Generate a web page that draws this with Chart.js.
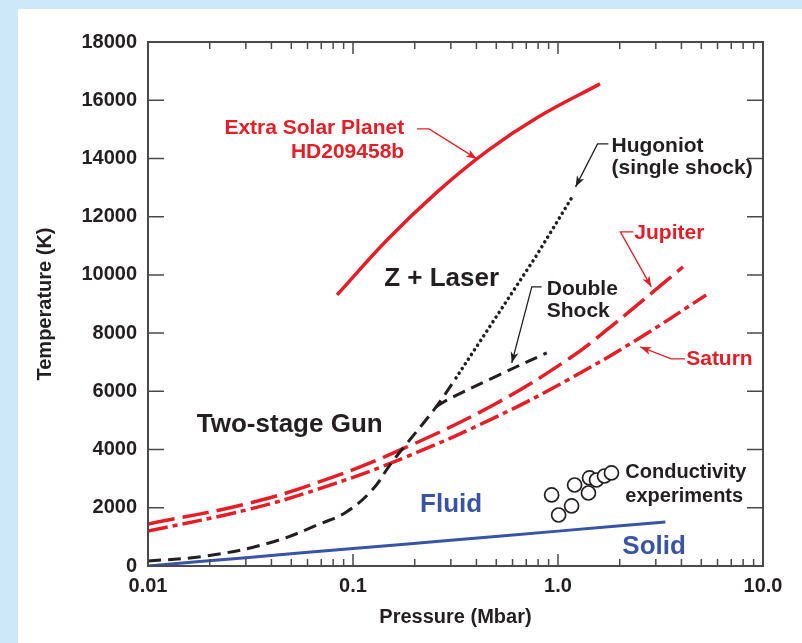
<!DOCTYPE html>
<html>
<head>
<meta charset="utf-8">
<script src="https://cdn.jsdelivr.net/npm/chart.js@4.4.0/dist/chart.umd.min.js"></script>
<style>
  html, body { margin: 0; padding: 0; background: #cde8f9; }
  #wrap { position: absolute; left: 18px; top: 9px; width: 784px; height: 634px; background: #fff; }
</style>
</head>
<body>
<div id="wrap"><canvas id="chart" width="784" height="634"></canvas></div>
<script>
// pressure in Mbar, temperature in K
const planetP = [0.0836, 0.1466, 0.2569, 0.4505, 0.790, 1.603];
const planetT = [9312, 11198, 12844, 14253, 15400, 16562];

const hugoniotP = [0.01, 0.0194, 0.0405, 0.0709, 0.0928, 0.124, 0.155, 0.254, 0.318];
const hugoniotT = [170, 345, 825, 1480, 1855, 2610, 3570, 5460, 6460];

const hugoniotDotP = [0.318, 0.778, 1.19];
const hugoniotDotT = [6460, 10620, 12750];

const doubleShockP = [0.254, 0.287, 0.514, 0.881];
const doubleShockT = [5460, 5700, 6560, 7320];

const jupiterP = [0.01, 0.0314, 0.0772, 0.1834, 0.504, 1.144, 1.854, 2.907, 4.07];
const jupiterT = [1443, 2163, 3019, 4089, 5601, 7147, 8281, 9415, 10274];

const saturnP = [0.01, 0.0313, 0.0767, 0.1816, 0.497, 1.127, 2.466, 5.28];
const saturnT = [1200, 1952, 2770, 3746, 5114, 6409, 7807, 9309];

const solidP = [0.01, 0.03, 0.1, 0.3, 1.0, 3.34];
const solidT = [0, 286, 599, 885, 1198, 1512];

const condP = [0.931, 1.007, 1.165, 1.205, 1.408, 1.425, 1.541, 1.686, 1.823];
const condT = [2440, 1752, 2062, 2783, 2508, 3024, 2955, 3092, 3196];

const xTickValues = [0.01, 0.1, 1, 10];
const xTickLabels = ['0.01', '0.1', '1.0', '10.0'];

const ink = '#231f20';
const red = '#e31e26';
const blue = '#3953a5';
const axisColor = '#4a4a4a';
const fam = '"Liberation Sans", Arial, Helvetica, sans-serif';

const pts = (xs, ys) => xs.map((x, i) => ({ x: x, y: ys[i] }));

// text labels, anchored in data space
const notes = [
  { text: 'Extra Solar Planet', p: 0.1776, t: 15050, align: 'right', color: red, size: 21 },
  { text: 'HD209458b', p: 0.1776, t: 14225, align: 'right', color: red, size: 21 },
  { text: 'Hugoniot', p: 1.823, t: 14431, align: 'left', color: ink, size: 21 },
  { text: '(single shock)', p: 1.823, t: 13675, align: 'left', color: ink, size: 21 },
  { text: 'Z + Laser', p: 0.142, t: 9861, align: 'left', color: ink, size: 26 },
  { text: 'Double', p: 0.881, t: 9518, align: 'left', color: ink, size: 21 },
  { text: 'Shock', p: 0.881, t: 8762, align: 'left', color: ink, size: 21 },
  { text: 'Two-stage Gun', p: 0.0173, t: 4845, align: 'left', color: ink, size: 26 },
  { text: 'Jupiter', p: 2.357, t: 11442, align: 'left', color: red, size: 21 },
  { text: 'Saturn', p: 4.22, t: 7113, align: 'left', color: red, size: 21 },
  { text: 'Fluid', p: 0.2124, t: 2096, align: 'left', color: blue, size: 26 },
  { text: 'Solid', p: 2.06, t: 653, align: 'left', color: blue, size: 26 },
  { text: 'Conductivity', p: 2.13, t: 3196, align: 'left', color: ink, size: 20 },
  { text: 'experiments', p: 2.13, t: 2405, align: 'left', color: ink, size: 20 }
];

// leader lines with arrowhead at the last point
const arrows = [
  { color: red, path: [[0.2054, 15015], [0.235, 15015], [0.402, 13985]] },
  { color: ink, path: [[1.762, 14500], [1.559, 14500], [1.218, 13022]] },
  { color: ink, path: [[0.832, 9587], [0.745, 9587], [0.595, 6975]] },
  { color: red, path: [[2.33, 11476], [2.015, 11476], [2.852, 9586]] },
  { color: red, path: [[4.17, 7113], [3.57, 7113], [2.52, 7525]] }
];

const decor = {
  id: 'decor',
  afterDatasetsDraw(chart) {
    const ctx = chart.ctx;
    const xs = chart.scales.x, ys = chart.scales.y;
    ctx.save();
    arrows.forEach(a => {
      const p = a.path.map(q => [xs.getPixelForValue(q[0]), ys.getPixelForValue(q[1])]);
      ctx.strokeStyle = a.color;
      ctx.fillStyle = a.color;
      ctx.lineWidth = 1.3;
      ctx.beginPath();
      ctx.moveTo(p[0][0], p[0][1]);
      for (let i = 1; i < p.length; i++) ctx.lineTo(p[i][0], p[i][1]);
      ctx.stroke();
      const e = p[p.length - 1], s = p[p.length - 2];
      const ang = Math.atan2(e[1] - s[1], e[0] - s[0]);
      ctx.save();
      ctx.translate(e[0], e[1]);
      ctx.rotate(ang);
      ctx.beginPath();
      ctx.moveTo(0, 0);
      ctx.lineTo(-11, -4);
      ctx.lineTo(-8, 0);
      ctx.lineTo(-11, 4);
      ctx.closePath();
      ctx.fill();
      ctx.restore();
    });
    ctx.textBaseline = 'middle';
    notes.forEach(n => {
      ctx.font = 'bold ' + n.size + 'px ' + fam;
      ctx.fillStyle = n.color;
      ctx.textAlign = n.align;
      ctx.fillText(n.text, xs.getPixelForValue(n.p), ys.getPixelForValue(n.t));
    });
    ctx.restore();
  },
  afterDraw(chart) {
    const ctx = chart.ctx;
    const a = chart.chartArea;
    const xs = chart.scales.x, ys = chart.scales.y;
    ctx.save();
    ctx.strokeStyle = axisColor;
    ctx.lineWidth = 2;
    ctx.strokeRect(a.left, a.top, a.right - a.left, a.bottom - a.top);
    ctx.lineWidth = 1.5;
    ctx.beginPath();
    for (let v = 2000; v < 18000; v += 2000) {
      const y = ys.getPixelForValue(v);
      ctx.moveTo(a.left, y); ctx.lineTo(a.left + 16, y);
      ctx.moveTo(a.right, y); ctx.lineTo(a.right - 16, y);
    }
    for (let d = 0.01; d < 10; d *= 10) {
      for (let k = 1; k <= 10; k++) {
        const v = d * k;
        if (v <= 0.01 || v >= 10) continue;
        const x = xs.getPixelForValue(v);
        const len = (k === 10) ? 12 : 7;
        ctx.moveTo(x, a.bottom); ctx.lineTo(x, a.bottom - len);
        ctx.moveTo(x, a.top); ctx.lineTo(x, a.top + len);
      }
    }
    ctx.stroke();
    ctx.restore();
  }
};

const curve = { showLine: true, pointRadius: 0, tension: 0.4 };

new Chart(document.getElementById('chart'), {
  type: 'scatter',
  data: {
    datasets: [
      {
        label: 'Conductivity experiments',
        data: pts(condP, condT),
        pointRadius: 7,
        pointBackgroundColor: '#fff',
        pointBorderColor: ink,
        pointBorderWidth: 1.7
      },
      Object.assign({
        label: 'Extra Solar Planet HD209458b',
        data: pts(planetP, planetT),
        borderColor: red, borderWidth: 3.5
      }, curve),
      Object.assign({
        label: 'Hugoniot',
        data: pts(hugoniotP, hugoniotT),
        borderColor: ink, borderWidth: 3,
        borderDash: [13, 7]
      }, curve),
      Object.assign({
        label: 'Hugoniot (single shock)',
        data: pts(hugoniotDotP, hugoniotDotT),
        borderColor: ink, borderWidth: 3.5,
        borderDash: [0.1, 5.5], borderCapStyle: 'round'
      }, curve, { tension: 0 }),
      Object.assign({
        label: 'Double Shock',
        data: pts(doubleShockP, doubleShockT),
        borderColor: ink, borderWidth: 3,
        borderDash: [13, 7]
      }, curve),
      Object.assign({
        label: 'Jupiter',
        data: pts(jupiterP, jupiterT),
        borderColor: red, borderWidth: 3.5,
        borderDash: [27, 8]
      }, curve),
      Object.assign({
        label: 'Saturn',
        data: pts(saturnP, saturnT),
        borderColor: red, borderWidth: 3.5,
        borderDash: [20, 5, 5, 5]
      }, curve),
      Object.assign({
        label: 'Solid',
        data: pts(solidP, solidT),
        borderColor: blue, borderWidth: 3
      }, curve)
    ]
  },
  options: {
    responsive: false,
    animation: false,
    layout: { padding: { left: 0, right: 39, top: 33, bottom: 0 } },
    plugins: {
      legend: { display: false },
      tooltip: { enabled: false }
    },
    scales: {
      x: {
        type: 'logarithmic',
        min: 0.01,
        max: 10,
        grid: { display: false, drawTicks: false },
        border: { display: false },
        afterBuildTicks: s => { s.ticks = xTickValues.map(v => ({ value: v })); },
        afterFit: s => { s.height = 77; },
        ticks: {
          autoSkip: false,
          maxRotation: 0,
          padding: 8,
          color: ink,
          font: { family: fam, size: 20, weight: 'bold' },
          callback: v => xTickLabels[xTickValues.indexOf(v)]
        },
        title: {
          display: true,
          text: 'Pressure (Mbar)',
          color: ink,
          font: { family: fam, size: 20, weight: 'bold' },
          padding: { top: 0, bottom: 14 }
        }
      },
      y: {
        min: 0,
        max: 18000,
        grid: { display: false, drawTicks: false },
        border: { display: false },
        afterFit: s => { s.width = 130; },
        ticks: {
          stepSize: 2000,
          padding: 11,
          color: ink,
          font: { family: fam, size: 20, weight: 'bold' },
          callback: v => String(v)
        },
        title: {
          display: true,
          text: 'Temperature (K)',
          color: ink,
          font: { family: fam, size: 20, weight: 'bold' },
          padding: { top: 15, bottom: 0 }
        }
      }
    }
  },
  plugins: [decor]
});
</script>
</body>
</html>
